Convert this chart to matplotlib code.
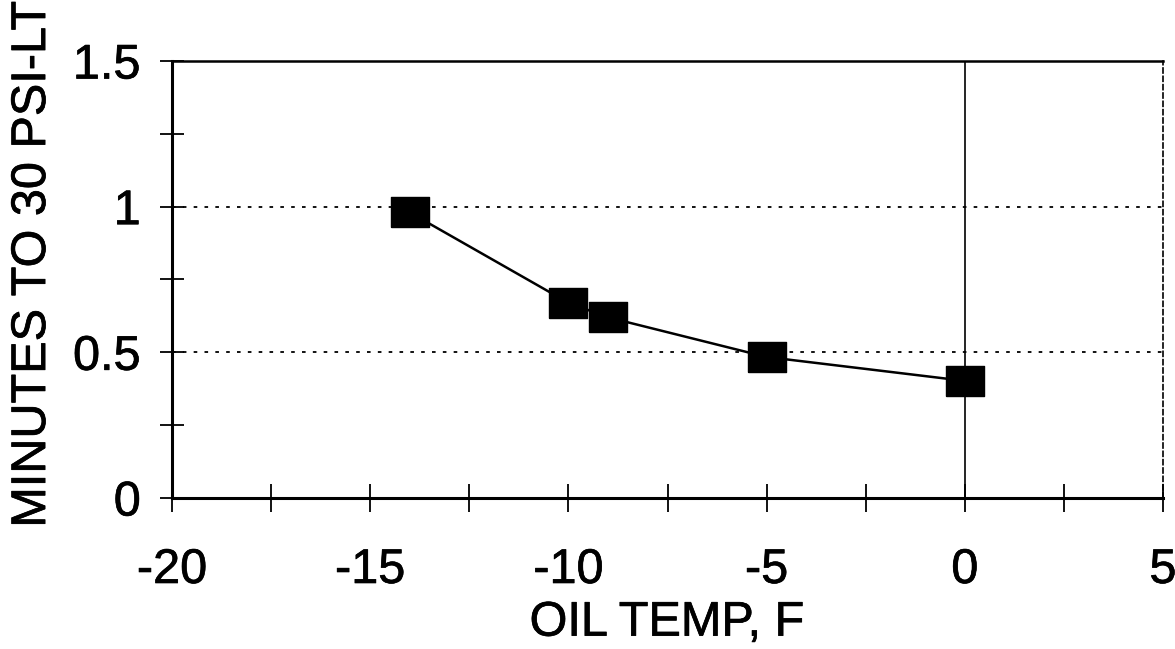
import numpy as np
import matplotlib
matplotlib.use('Agg')
from matplotlib import pyplot as plt
from matplotlib import patheffects

# data
oil_temp = [-14, -10, -9, -5, 0]
minutes = [0.98, 0.67, 0.62, 0.484, 0.402]

x_ticks = [-20, -15, -10, -5, 0, 5]
y_ticks = [0, 0.5, 1, 1.5]
y_tick_labels = ['0', '0.5', '1', '1.5']

plt.rcParams['font.family'] = ['Liberation Sans', 'DejaVu Sans']

fig = plt.figure(figsize=(11.75, 6.49), dpi=100)
ax = fig.add_axes([0.1464, 0.2327, 0.8434, 0.6733])

# wide rectangle marker
rect = [(-1, -0.75), (1, -0.75), (1, 0.75), (-1, 0.75), (-1, -0.75)]

ax.axhline(1.0, color='black', lw=1.3, ls=(0, (2, 4)), zorder=1)
ax.axhline(0.5, color='black', lw=1.3, ls=(0, (2, 4)), zorder=1)
ax.axvline(0, color='black', lw=1.2, zorder=1)

ax.plot(oil_temp, minutes, color='black', lw=1.8, marker=rect,
        markersize=28, markerfacecolor='black', markeredgecolor='black', zorder=3)

ax.set_xlim(-20, 5)
ax.set_ylim(0, 1.5)
ax.set_xticks(x_ticks)
ax.set_xticklabels([str(v) for v in x_ticks])
ax.set_xticks(np.arange(-17.5, 5, 5), minor=True)
ax.set_yticks(y_ticks)
ax.set_yticklabels(y_tick_labels)
ax.set_yticks([0.25, 0.75, 1.25], minor=True)

ax.tick_params(axis='both', which='both', direction='inout', width=1.3,
               labelsize=35, top=False, right=False)
ax.tick_params(axis='x', which='both', length=20, pad=26)
ax.tick_params(axis='y', which='both', length=17, pad=14)

ax.spines['left'].set_linewidth(2.2)
ax.spines['bottom'].set_linewidth(2.2)
ax.spines['top'].set_linewidth(1.8)
ax.spines['right'].set_linewidth(1.2)
ax.spines['right'].set_linestyle((0, (3, 2)))

ax.set_xlabel('OIL TEMP, F', fontsize=35)
ax.set_ylabel('MINUTES TO 30 PSI-LT', fontsize=35)
ax.xaxis.set_label_coords(0.4995, -0.235)
ax.yaxis.set_label_coords(-0.118, 0.535)

# scanned text looks a little heavier than plain regular weight
thick = [patheffects.withStroke(linewidth=0.5, foreground='black')]
for t in ax.get_xticklabels() + ax.get_yticklabels() + [ax.xaxis.label, ax.yaxis.label]:
    t.set_path_effects(thick)

fig.savefig('out.png', dpi=100)
